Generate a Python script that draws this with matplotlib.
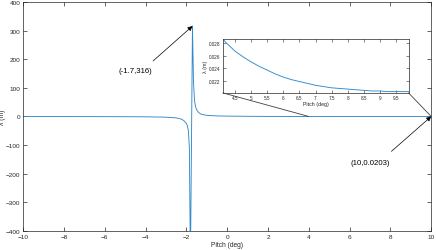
import matplotlib.pyplot as plt
from matplotlib.patches import ConnectionPatch

plt.rcParams['font.family'] = ['Liberation Sans', 'DejaVu Sans']

# pitch (deg) and wavelength lambda (m)
pitch = [-10, -8, -6, -4, -3, -2.5, -2.3, -2.2, -2.1, -2.0, -1.95, -1.9,
         -1.85, -1.8, -1.7, -1.65, -1.6, -1.55, -1.5, -1.4, -1.3, -1.2,
         -1.0, -0.5, 0, 1, 2, 3, 4, 4.12, 4.25, 4.5, 4.75, 5.0, 5.25, 5.5,
         5.75, 6.0, 6.25, 6.5, 6.75, 7.0, 7.25, 7.5, 7.75, 8.0, 8.25, 8.5,
         8.75, 9.0, 9.25, 9.5, 9.75, 10]
lam = [-0.3, -0.4, -0.6, -1.2, -2.5, -5, -8, -11, -16, -24, -32, -50,
       -110, -520, 316, 120, 55, 35, 24, 14, 9, 6.5,
       4, 2, 1.2, 0.5, 0.2, 0.08, 0.03, 0.0286, 0.0279, 0.0267, 0.0258,
       0.0250, 0.0243, 0.0237, 0.0231, 0.0226, 0.0222, 0.0219, 0.0216,
       0.0213, 0.0211, 0.0209, 0.0208, 0.0207, 0.0206, 0.0205, 0.0204,
       0.0204, 0.0203, 0.0203, 0.0203, 0.0203]

peak = (-1.7, 316)
end_pt = (10, 0.0203)

x_ticks = [-10, -8, -6, -4, -2, 0, 2, 4, 6, 8, 10]
y_ticks = [-400, -300, -200, -100, 0, 100, 200, 300, 400]
inset_xticks = [4.5, 5, 5.5, 6, 6.5, 7, 7.5, 8, 8.5, 9, 9.5]
inset_yticks = [0.022, 0.024, 0.026, 0.028]

line_col = '#2f89cc'
axis_col = '#262626'

fig = plt.figure(figsize=(4.36, 2.51), dpi=100)
ax = fig.add_axes([0.053, 0.076, 0.936, 0.912])
ax.plot(pitch, lam, color=line_col, lw=0.65)
ax.set_xlim(-10, 10)
ax.set_ylim(-400, 400)
ax.set_xticks(x_ticks)
ax.set_yticks(y_ticks)
ax.tick_params(direction='in', length=3, width=0.5, labelsize=4.6,
               colors=axis_col, top=True, right=True, pad=2)
for s in ax.spines.values():
    s.set_linewidth(0.5)
    s.set_color(axis_col)
ax.set_xlabel('Pitch (deg)', fontsize=4.8, color=axis_col, labelpad=1.5)
ax.set_ylabel('λ (m)', fontsize=4.8, color=axis_col)
ax.yaxis.set_label_coords(-0.042, 0.5)

arrow = dict(arrowstyle='-|>', color='black', lw=0.5, mutation_scale=7,
             shrinkA=0, shrinkB=0)
ax.annotate('', xy=peak, xytext=(-3.63, 194), arrowprops=arrow)
ax.text(-4.5, 159, '(-1.7,316)', fontsize=5.6, ha='center', va='center')
ax.annotate('', xy=end_pt, xytext=(8.05, -122), arrowprops=arrow)
ax.text(7.0, -160, '(10,0.0203)', fontsize=5.6, ha='center', va='center')

ins = fig.add_axes([0.511, 0.626, 0.426, 0.214])
ins.plot(pitch, lam, color=line_col, lw=0.65)
ins.set_xlim(4.12, 9.89)
ins.set_ylim(0.0201, 0.0286)
ins.set_xticks(inset_xticks)
ins.set_xticklabels([f'{t:g}' for t in inset_xticks])
ins.set_yticks(inset_yticks)
ins.set_yticklabels([f'{t:.3f}' for t in inset_yticks])
ins.tick_params(direction='in', length=2, width=0.4, labelsize=3.3,
                colors=axis_col, top=True, right=True, pad=1.5)
for s in ins.spines.values():
    s.set_linewidth(0.5)
    s.set_color(axis_col)
ins.set_xlabel('Pitch (deg)', fontsize=3.8, color=axis_col, labelpad=1)
ins.set_ylabel('λ (m)', fontsize=3.8, color=axis_col, labelpad=1)

for corner, target in [((0, 0), (4, 0)), ((1, 0), (10, 0))]:
    con = ConnectionPatch(xyA=corner, coordsA=ins.transAxes,
                          xyB=target, coordsB=ax.transData,
                          color='#404040', lw=0.6)
    fig.add_artist(con)

fig.savefig('out.png', dpi=100)
